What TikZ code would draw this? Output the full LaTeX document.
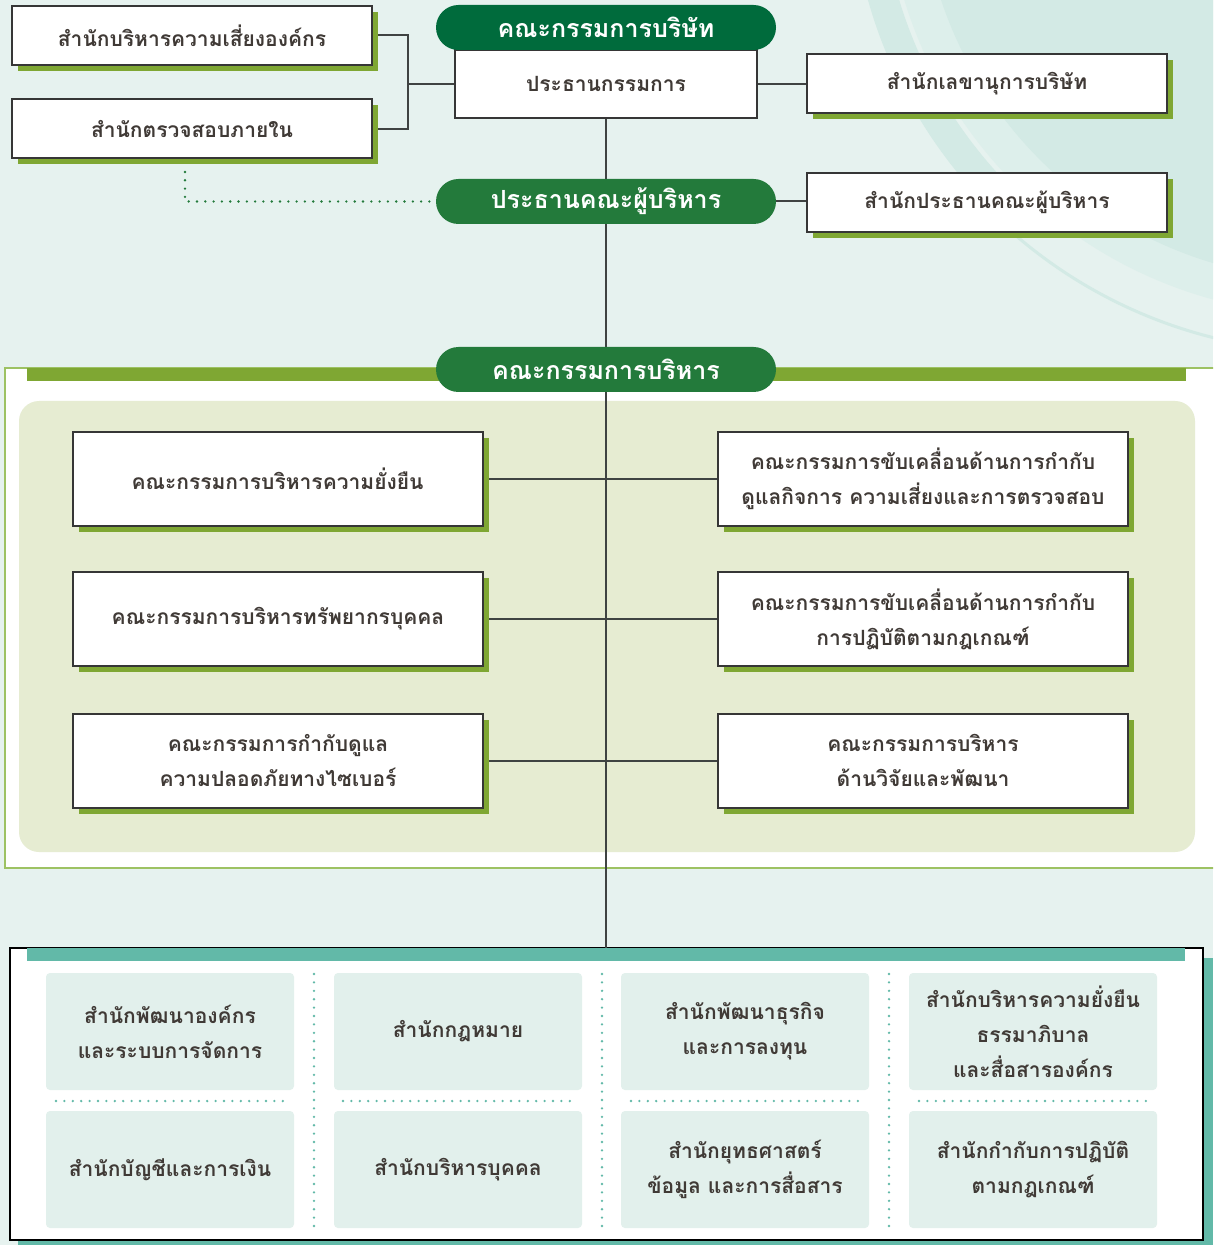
\documentclass[tikz,border=0pt]{standalone}
\usepackage{fontspec}
\newfontfamily\thaifont[Script=Thai]{Loma}
\usetikzlibrary{shadows}

\definecolor{bgmint}{HTML}{E6F2EF}
\definecolor{arcmid}{HTML}{DDEFEB}
\definecolor{arcdark}{HTML}{D3EAE5}
\definecolor{boardgreen}{HTML}{006B3C}
\definecolor{execgreen}{HTML}{237A3B}
\definecolor{olive}{HTML}{7FA733}
\definecolor{oliveline}{HTML}{9DC263}
\definecolor{panel}{HTML}{E6ECD2}
\definecolor{tealbar}{HTML}{62B9A8}
\definecolor{cell}{HTML}{E2F0EC}
\definecolor{ink}{HTML}{403A36}
\definecolor{boxline}{HTML}{363636}
\definecolor{linkgray}{HTML}{3F4342}

\pgfdeclarelayer{deco}
\pgfdeclarelayer{links}
\pgfsetlayers{deco,links,main}

\tikzset{
  plainbox/.style={draw=boxline, line width=1pt, fill=white, inner sep=0pt,
    minimum width=180pt, minimum height=29.5pt, text=ink, align=center,
    font=\thaifont\bfseries\fontsize{10.5}{17.5}\selectfont},
  office/.style={plainbox,
    drop shadow={shadow xshift=3pt, shadow yshift=-3pt, fill=olive, opacity=1}},
  cmte/.style={office, minimum width=205pt, minimum height=47pt},
  pill/.style={fill=execgreen, rounded corners=11.25pt, inner sep=0pt,
    minimum width=170pt, minimum height=22.5pt, text=white,
    font=\thaifont\bfseries\fontsize{12.5}{16}\selectfont},
  unit/.style={fill=cell, rounded corners=2pt, inner sep=0pt,
    minimum width=124pt, minimum height=58.5pt, text=ink, align=center,
    font=\thaifont\bfseries\fontsize{10.5}{17.5}\selectfont},
  link/.style={draw=linkgray, line width=1pt},
  greendots/.style={draw=execgreen, line width=1.3pt, line cap=round, dash pattern=on 0pt off 4.15pt},
  tealdots/.style={draw=tealbar, line width=1.3pt, line cap=round, dash pattern=on 0pt off 4.2pt},
}

\begin{document}
\begin{tikzpicture}[x=0.5pt,y=-0.5pt]
\useasboundingbox (0,0) rectangle (1213,1245);

\begin{pgfonlayer}{deco}
\clip (0,0) rectangle (1213,1245);
\fill[bgmint] (0,0) rectangle (1213,1245);

% rings top right
\coordinate (ctr) at (1330,-130);
\fill[arcmid] (ctr) circle[radius=445];
\fill[arcdark] (ctr) circle[radius=410];
\draw[arcdark, line width=15pt] (ctr) ++(176:465) arc[start angle=176, end angle=134, radius=465];
\draw[arcdark, line width=1.5pt] (ctr) ++(134:482) arc[start angle=134, end angle=95, radius=482];

% executive committee frame
\draw[oliveline, line width=0.8pt, fill=white] (5,368) rectangle (1230,868);
\draw[olive, fill=olive] (27,368) rectangle (1185,380);
\fill[panel, rounded corners=10pt] (19,401) rectangle (1195,852);

% offices frame
\fill[tealbar] (18,958) rectangle (1213,1250);
\draw[black, line width=0.8pt, fill=white] (10,948) rectangle (1203,1240);
\fill[tealbar] (27,948) rectangle (1185,961);

\foreach \x in {314,602,889}
  \draw[tealdots] (\x,974) -- (\x,1226);
\foreach \x in {56,343,631,919}
  \draw[tealdots] (\x,1101) -- (\x+230,1101);
\end{pgfonlayer}

% board
\node[plainbox, minimum width=151pt, minimum height=34pt] (chair) at (606,84) {ประธานกรรมการ};
\node[pill, fill=boardgreen] (board) at (606,27.5) {คณะกรรมการบริษัท};
\node[office] (risk) at (192,35.5) {สำนักบริหารความเสี่ยงองค์กร};
\node[office] (audit) at (192,129) {สำนักตรวจสอบภายใน};
\node[office] (sec) at (987,84) {สำนักเลขานุการบริษัท};

% executives
\node[pill] (ceo) at (606,201.5) {ประธานคณะผู้บริหาร};
\node[office] (ceooffice) at (987,202.5) {สำนักประธานคณะผู้บริหาร};
\node[pill] (exco) at (606,369.5) {คณะกรรมการบริหาร};

\node[cmte] (c1) at (277.5,479) {คณะกรรมการบริหารความยั่งยืน};
\node[cmte] (c2) at (923,479) {คณะกรรมการขับเคลื่อนด้านการกำกับ\\ดูแลกิจการ ความเสี่ยงและการตรวจสอบ};
\node[cmte] (c3) at (278,619) {คณะกรรมการบริหารทรัพยากรบุคคล};
\node[cmte] (c4) at (923,619) {คณะกรรมการขับเคลื่อนด้านการกำกับ\\การปฏิบัติตามกฎเกณฑ์};
\node[cmte] (c5) at (278,760.5) {คณะกรรมการกำกับดูแล\\ความปลอดภัยทางไซเบอร์};
\node[cmte] (c6) at (923,760.5) {คณะกรรมการบริหาร\\ด้านวิจัยและพัฒนา};

% offices
\node[unit] (u1) at (170,1031.5) {สำนักพัฒนาองค์กร\\และระบบการจัดการ};
\node[unit] (u2) at (458,1031.5) {สำนักกฎหมาย};
\node[unit] (u3) at (745,1031.5) {สำนักพัฒนาธุรกิจ\\และการลงทุน};
\node[unit] (u4) at (1033,1031.5) {สำนักบริหารความยั่งยืน\\ธรรมาภิบาล\\และสื่อสารองค์กร};
\node[unit] (u5) at (170,1169.5) {สำนักบัญชีและการเงิน};
\node[unit] (u6) at (458,1169.5) {สำนักบริหารบุคคล};
\node[unit] (u7) at (745,1169.5) {สำนักยุทธศาสตร์\\ข้อมูล และการสื่อสาร};
\node[unit] (u8) at (1033,1169.5) {สำนักกำกับการปฏิบัติ\\ตามกฎเกณฑ์};

\coordinate (brk) at (408,84);
\coordinate (dotstart) at (185,172);
\coordinate (spineend) at (606,948);

\begin{pgfonlayer}{links}
\draw[link] (risk.east) -| (brk) |- (audit.east);
\draw[link] (brk) -- (chair.west);
\draw[link] (chair.east) -- (sec.west);
\draw[link] (chair.south) -- (spineend);
\draw[link] (ceo.east) -- (ceo.east -| ceooffice.west);
\draw[greendots] (dotstart) |- (ceo.west);
\draw[link] (c1.east) -- (c2.west);
\draw[link] (c3.east) -- (c4.west);
\draw[link] (c5.east) -- (c6.west);
\end{pgfonlayer}

\end{tikzpicture}
\end{document}
